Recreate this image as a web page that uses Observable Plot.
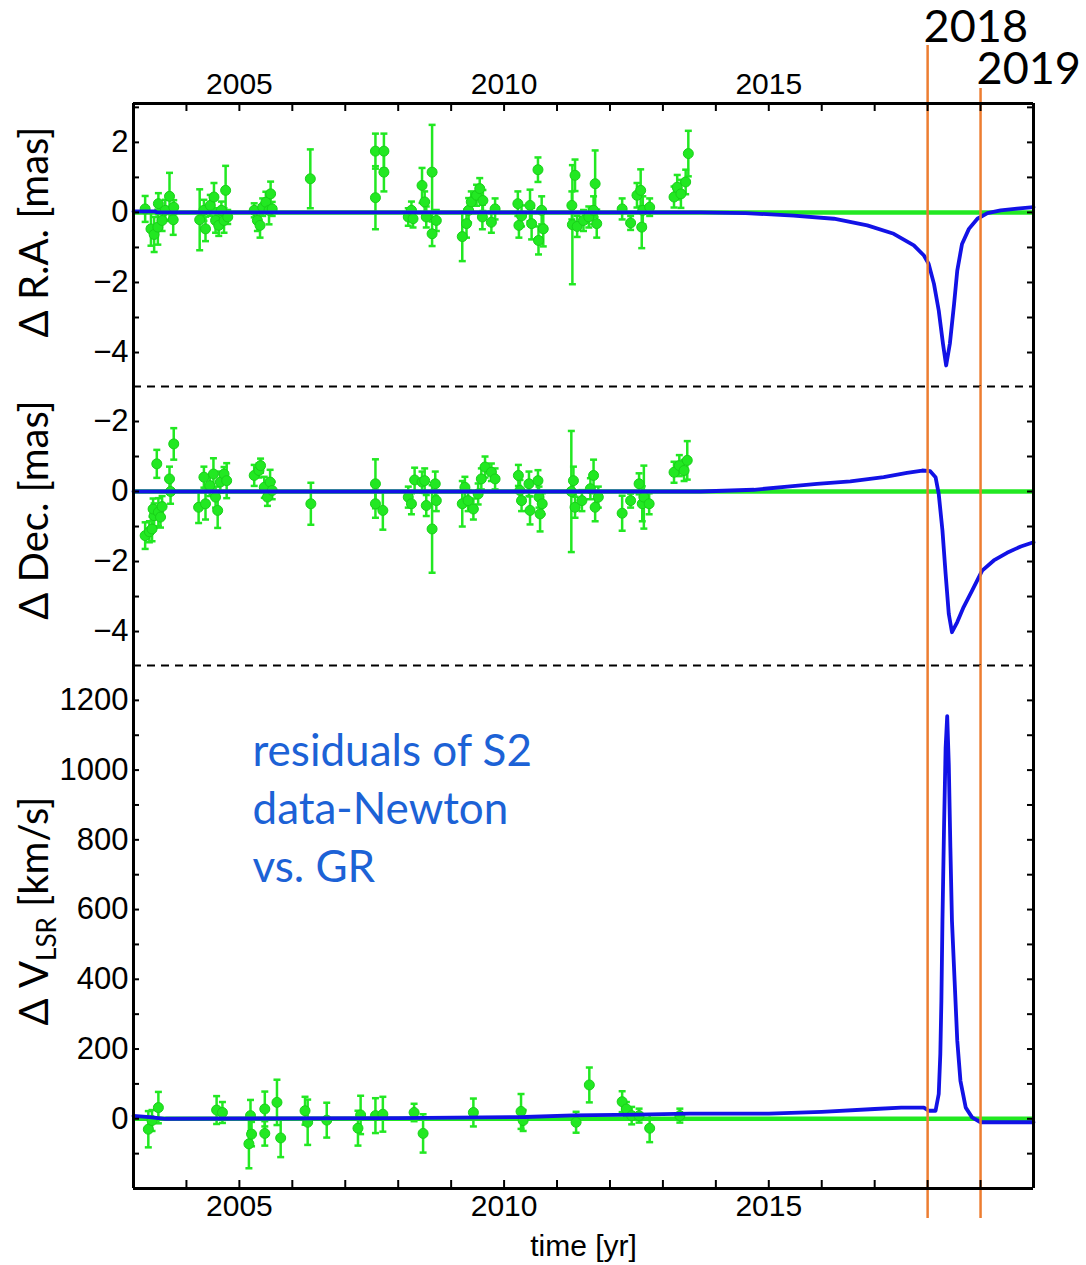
<!DOCTYPE html>
<html>
<head>
<meta charset="utf-8">
<script src="https://cdn.jsdelivr.net/npm/d3@7"></script>
<script src="https://cdn.jsdelivr.net/npm/@observablehq/plot@0.6"></script>
<style>
  html, body { margin: 0; padding: 0; background: #fff; overflow: hidden; }
  #chart { position: relative; width: 1086px; height: 1265px; }
  #chart svg { display: block; overflow: visible; max-width: none; }
</style>
</head>
<body>
<div id="chart"></div>
<script>
// ---------------- DATA ----------------
// [year, residual, error]
const raPoints = [
  [2003.22, 0.10, 0.37], [2003.33, -0.47, 0.48], [2003.39, -0.63, 0.50], [2003.46, -0.42, 0.50],
  [2003.47, 0.25, 0.30], [2003.54, -0.23, 0.30], [2003.60, 0.06, 0.30], [2003.68, 0.46, 0.67],
  [2003.75, -0.21, 0.43], [2003.76, 0.15, 0.20],
  [2004.25, -0.21, 0.87], [2004.33, 0.06, 0.30], [2004.36, -0.47, 0.35], [2004.45, 0.20, 0.30],
  [2004.52, 0.44, 0.40], [2004.55, -0.23, 0.35], [2004.61, -0.37, 0.30], [2004.66, 0.06, 0.25],
  [2004.71, -0.23, 0.35], [2004.74, 0.63, 0.70], [2004.78, -0.13, 0.20],
  [2005.28, 0.06, 0.20], [2005.34, -0.23, 0.30], [2005.39, -0.37, 0.35], [2005.44, 0.15, 0.25],
  [2005.50, 0.29, 0.30], [2005.56, 0.06, 0.40], [2005.59, 0.53, 0.35], [2005.62, 0.10, 0.20],
  [2006.34, 0.96, 0.84],
  [2007.57, 1.75, 0.50], [2007.57, 0.42, 0.90], [2007.73, 1.75, 0.50], [2007.73, 1.15, 0.55],
  [2008.19, -0.13, 0.25], [2008.25, 0.06, 0.25], [2008.28, -0.18, 0.25], [2008.45, 0.77, 0.50],
  [2008.50, 0.30, 0.30], [2008.53, -0.13, 0.30], [2008.64, 1.15, 1.35], [2008.64, -0.61, 0.35],
  [2008.72, -0.23, 0.30],
  [2009.21, -0.69, 0.70], [2009.29, -0.32, 0.40], [2009.33, 0.06, 0.35], [2009.38, 0.30, 0.30],
  [2009.48, 0.49, 0.30], [2009.54, 0.68, 0.30], [2009.59, -0.13, 0.35], [2009.60, 0.34, 0.30],
  [2009.76, -0.28, 0.30], [2009.83, 0.10, 0.30],
  [2010.26, 0.25, 0.35], [2010.28, -0.37, 0.35], [2010.33, -0.10, 0.30], [2010.49, 0.20, 0.45],
  [2010.52, -0.32, 0.45], [2010.64, 1.22, 0.35], [2010.65, -0.80, 0.40], [2010.71, 0.06, 0.40],
  [2010.74, -0.47, 0.50],
  [2011.28, 0.20, 0.40], [2011.29, -0.35, 1.70], [2011.34, 1.06, 0.45], [2011.38, -0.40, 0.30],
  [2011.50, -0.23, 0.30], [2011.60, -0.13, 0.30], [2011.69, 0.06, 0.40], [2011.72, 0.82, 0.95],
  [2011.75, -0.32, 0.40],
  [2012.23, 0.10, 0.30], [2012.39, -0.30, 0.20], [2012.51, 0.49, 0.35], [2012.58, 0.63, 0.60],
  [2012.60, -0.42, 0.60], [2012.62, 0.06, 0.40], [2012.75, 0.15, 0.25],
  [2013.21, 0.44, 0.30], [2013.27, 0.72, 0.35], [2013.34, 0.53, 0.40], [2013.43, 0.87, 0.35],
  [2013.48, 1.68, 0.65]
];

const decPoints = [
  [2003.22, -1.26, 0.38], [2003.30, -1.15, 0.30], [2003.35, -1.07, 0.35], [2003.39, -0.69, 0.35],
  [2003.37, -0.50, 0.30], [2003.44, 0.79, 0.40], [2003.47, -0.59, 0.40], [2003.51, -0.73, 0.30],
  [2003.54, -0.43, 0.30], [2003.68, 0.36, 0.35], [2003.70, 0.00, 0.35], [2003.76, 1.36, 0.45],
  [2004.23, -0.45, 0.45], [2004.33, 0.41, 0.30], [2004.36, -0.35, 0.45], [2004.44, 0.17, 0.30],
  [2004.51, 0.50, 0.45], [2004.55, -0.16, 0.30], [2004.59, -0.54, 0.50], [2004.64, 0.27, 0.30],
  [2004.71, 0.50, 0.20], [2004.76, 0.31, 0.50],
  [2005.28, 0.46, 0.30], [2005.37, 0.60, 0.20], [2005.40, 0.74, 0.20], [2005.47, 0.12, 0.30],
  [2005.53, -0.16, 0.25], [2005.58, 0.27, 0.35], [2005.62, 0.03, 0.25],
  [2006.35, -0.35, 0.60],
  [2007.57, 0.22, 0.70], [2007.57, -0.35, 0.40], [2007.71, -0.54, 0.55],
  [2008.19, -0.16, 0.30], [2008.25, -0.35, 0.30], [2008.31, 0.33, 0.35], [2008.45, 0.27, 0.30],
  [2008.50, 0.31, 0.35], [2008.53, -0.40, 0.30], [2008.64, -1.07, 1.25], [2008.70, 0.22, 0.35],
  [2008.72, -0.26, 0.30],
  [2009.21, -0.35, 0.65], [2009.26, 0.12, 0.30], [2009.32, -0.26, 0.30], [2009.42, -0.50, 0.30],
  [2009.51, -0.07, 0.30], [2009.57, 0.36, 0.30], [2009.64, 0.70, 0.30], [2009.76, 0.55, 0.25],
  [2009.83, 0.36, 0.30],
  [2010.27, 0.46, 0.30], [2010.30, 0.03, 0.30], [2010.33, -0.26, 0.30], [2010.47, 0.22, 0.35],
  [2010.49, -0.54, 0.40], [2010.64, 0.31, 0.30], [2010.66, -0.16, 0.30], [2010.68, -0.64, 0.50],
  [2010.72, -0.35, 0.30],
  [2011.27, 0.00, 1.73], [2011.31, 0.31, 0.40], [2011.34, -0.45, 0.30], [2011.47, -0.26, 0.30],
  [2011.63, 0.08, 0.30], [2011.69, 0.46, 0.45], [2011.72, -0.45, 0.40], [2011.78, -0.16, 0.30],
  [2012.23, -0.62, 0.50], [2012.39, -0.26, 0.20], [2012.55, 0.22, 0.30], [2012.61, -0.35, 0.50],
  [2012.64, -0.16, 0.90], [2012.74, -0.35, 0.30],
  [2013.21, 0.55, 0.30], [2013.31, 0.74, 0.30], [2013.40, 0.60, 0.30], [2013.46, 0.89, 0.55]
];

const vlsrPoints = [
  [2003.28, -30, 52], [2003.35, -5, 30], [2003.47, 32, 45],
  [2004.57, 25, 40], [2004.68, 18, 30],
  [2005.18, -72, 70], [2005.21, 9, 45], [2005.23, -44, 35], [2005.48, 28, 50], [2005.48, -42, 35],
  [2005.71, 47, 65], [2005.78, -55, 55],
  [2006.24, 23, 40], [2006.29, -10, 65], [2006.65, -4, 50],
  [2007.24, -27, 50], [2007.29, 11, 55], [2007.57, 9, 50], [2007.71, 13, 50],
  [2008.30, 18, 25], [2008.47, -42, 55],
  [2009.42, 18, 40],
  [2010.32, 21, 50], [2010.36, -5, 30],
  [2011.36, -10, 30], [2011.61, 97, 50],
  [2012.23, 49, 30], [2012.31, 28, 20], [2012.41, 9, 25], [2012.55, 9, 20], [2012.75, -27, 40],
  [2013.32, 9, 20]
];

// model curves (GR - Newton), [year, value]
const raModel = [
  [2003.0, 0.03], [2003.4, 0.03], [2003.45, 0.0], [2013.71, 0.0], [2014.56, -0.02], [2015.47, -0.09],
  [2016.23, -0.18], [2016.86, -0.37], [2017.36, -0.61], [2017.74, -0.94], [2017.93, -1.23],
  [2018.02, -1.47], [2018.12, -2.04], [2018.21, -2.80], [2018.29, -3.75], [2018.35, -4.37],
  [2018.42, -3.75], [2018.50, -2.61], [2018.56, -1.66], [2018.65, -0.90], [2018.78, -0.47],
  [2018.94, -0.18], [2019.13, -0.02], [2019.38, 0.06], [2019.69, 0.11], [2020.0, 0.15]
];

const decModel = [
  [2003.0, 0.0], [2013.71, 0.0], [2014.72, 0.05], [2015.35, 0.14], [2015.91, 0.22], [2016.54, 0.29],
  [2017.17, 0.41], [2017.61, 0.53], [2017.90, 0.60], [2018.05, 0.58], [2018.15, 0.41],
  [2018.21, -0.07], [2018.28, -1.11], [2018.34, -2.35], [2018.40, -3.50], [2018.46, -4.02],
  [2018.56, -3.73], [2018.68, -3.30], [2018.84, -2.83], [2019.03, -2.26], [2019.25, -1.97],
  [2019.50, -1.75], [2019.76, -1.57], [2020.0, -1.45]
];

const vlsrModel = [
  [2003.0, 8], [2003.3, 5], [2003.6, 0], [2008.0, 2], [2010.4, 5], [2011.3, 10], [2012.5, 12],
  [2013.5, 15], [2015.0, 15], [2016.0, 20], [2017.0, 28], [2017.5, 32], [2017.93, 32],
  [2018.02, 23], [2018.15, 23], [2018.21, 71], [2018.24, 186], [2018.26, 338], [2018.28, 567],
  [2018.31, 835], [2018.34, 1064], [2018.37, 1155], [2018.40, 1016], [2018.43, 777],
  [2018.46, 567], [2018.51, 395], [2018.56, 224], [2018.62, 109], [2018.72, 32], [2018.84, 4],
  [2019.0, -10], [2020.0, -10]
];

// ticks and labels
const yearTicks = [2004, 2005, 2006, 2007, 2008, 2009, 2010, 2011, 2012, 2013, 2014, 2015, 2016, 2017, 2018, 2019];
const xLabelTicks = [2005, 2010, 2015];
const xTickLabels = ["2005", "2010", "2015"];

const raTickValues = [2, 0, -2, -4];
const raTickLabels = ["2", "0", "\u22122", "\u22124"];
const raMinorTicks = [3, 2, 1, 0, -1, -2, -3, -4];

const decTickValues = [2, 0, -2, -4];
const decTickLabels = ["\u22122", "0", "\u22122", "\u22124"];
const decMinorTicks = [2, 1, 0, -1, -2, -3, -4];

const vTickValues = [0, 200, 400, 600, 800, 1000, 1200];
const vTickLabels = ["0", "200", "400", "600", "800", "1000", "1200"];
const vMinorTicks = [-100, 0, 100, 200, 300, 400, 500, 600, 700, 800, 900, 1000, 1100, 1200];

const markYears = [2018, 2019];
const markLabels = ["2018", "2019"];

const raTitle = "\u0394 R.A. [mas]";
const decTitle = "\u0394 Dec. [mas]";
const vTitleParts = ["\u0394 V", "LSR", " [km/s]"];
const xTitle = "time [yr]";
const noteLines = ["residuals of S2", "data-Newton", "vs. GR"];

// ---------------- STYLE / LAYOUT ----------------
const GREEN = "#22e822", BLUE = "#1212e6", ORANGE = "#ed7d31", NOTE_BLUE = "#1c62d6";
const W = 1086, ML = 133, MR = 53, FW = W - ML - MR;
const TICK_FONT = "'Liberation Sans', Arial, Helvetica, sans-serif";
const LABEL_FONT = "Lato, 'Open Sans', 'Noto Sans', sans-serif";
const xDomain = [2003, 2020];

const capSymbol = {
  draw(ctx, size) {
    const w = Math.sqrt(size / Math.PI);
    ctx.moveTo(-w, 0);
    ctx.lineTo(w, 0);
  }
};

function dataMarks(points, model) {
  return [
    Plot.ruleY([0], {stroke: GREEN, strokeWidth: 4.5}),
    Plot.ruleX(points, {x: d => d[0], y1: d => d[1] - d[2], y2: d => d[1] + d[2], stroke: GREEN, strokeWidth: 2.5}),
    Plot.dot(points, {x: d => d[0], y: d => d[1] + d[2], symbol: capSymbol, r: 3.5, stroke: GREEN, strokeWidth: 2.5, fill: "none"}),
    Plot.dot(points, {x: d => d[0], y: d => d[1] - d[2], symbol: capSymbol, r: 3.5, stroke: GREEN, strokeWidth: 2.5, fill: "none"}),
    Plot.dot(points, {x: d => d[0], y: d => d[1], r: 5, fill: GREEN, stroke: "#19d019", strokeWidth: 1}),
    Plot.line(model, {x: d => d[0], y: d => d[1], stroke: BLUE, strokeWidth: 3.8, strokeLinejoin: "round"})
  ];
}

function sideTicks(minor) {
  return [
    Plot.tickY(minor, {y: d => d, insetRight: FW - 6, stroke: "black", strokeWidth: 2}),
    Plot.tickY(minor, {y: d => d, insetLeft: FW - 6, stroke: "black", strokeWidth: 2}),
    Plot.ruleX(xDomain, {stroke: "black", strokeWidth: 3})
  ];
}

function yAxis(values, labels) {
  return Plot.axisY({
    anchor: "left", ticks: values, tickSize: 0, tickPadding: 5, label: null,
    tickFormat: d => labels[values.indexOf(d)], fontSize: 31, fontFamily: TICK_FONT
  });
}

function yTitle(text, dy) {
  return Plot.text([text], {text: d => d, frameAnchor: "left", textAnchor: "middle", lineAnchor: "middle",
    rotate: -90, dx: -98, dy, fontSize: 40, fontFamily: LABEL_FONT, fill: "black"});
}

const baseStyle = {background: "transparent", overflow: "visible", fontFamily: TICK_FONT};

// ---------------- TOP PANEL: Δ R.A. ----------------
const raDomain = [-4.97, 3.11];
const topH = 386, topMT = 103;
const topPlot = Plot.plot({
  width: W, height: topH, marginTop: topMT, marginBottom: 0, marginLeft: ML, marginRight: MR,
  x: {domain: xDomain, axis: null},
  y: {domain: raDomain, axis: null},
  style: baseStyle,
  marks: [
    ...dataMarks(raPoints, raModel),
    Plot.ruleX([markYears[0]], {stroke: ORANGE, strokeWidth: 2.5, insetTop: -58}),
    Plot.ruleX([markYears[1]], {stroke: ORANGE, strokeWidth: 2.5, insetTop: -15}),
    ...sideTicks(raMinorTicks),
    Plot.tickX(yearTicks, {x: d => d, insetBottom: (topH - topMT) - 8, stroke: "black", strokeWidth: 2}),
    Plot.ruleY([raDomain[1]], {stroke: "black", strokeWidth: 3}),
    Plot.ruleY([raDomain[0]], {stroke: "black", strokeWidth: 2, strokeDasharray: "8,6"}),
    yAxis(raTickValues, raTickLabels),
    Plot.axisX({anchor: "top", ticks: xLabelTicks, tickSize: 0, tickPadding: 10, label: null,
      tickFormat: d => xTickLabels[xLabelTicks.indexOf(d)], fontSize: 30, fontFamily: TICK_FONT}),
    yTitle(raTitle, -13),
    Plot.text([markYears[0]], {x: d => d, text: d => markLabels[markYears.indexOf(d)], frameAnchor: "top",
      textAnchor: "start", lineAnchor: "middle", dx: -4, dy: -76, fontSize: 45, fontFamily: LABEL_FONT, fill: "black"}),
    Plot.text([markYears[1]], {x: d => d, text: d => markLabels[markYears.indexOf(d)], frameAnchor: "top",
      textAnchor: "start", lineAnchor: "middle", dx: -4, dy: -34, fontSize: 45, fontFamily: LABEL_FONT, fill: "black"})
  ]
});

// ---------------- MIDDLE PANEL: Δ Dec. ----------------
const decDomain = [-4.97, 3.0];
const midPlot = Plot.plot({
  width: W, height: 279, marginTop: 0, marginBottom: 0, marginLeft: ML, marginRight: MR,
  x: {domain: xDomain, axis: null},
  y: {domain: decDomain, axis: null},
  style: baseStyle,
  marks: [
    ...dataMarks(decPoints, decModel),
    Plot.ruleX(markYears, {stroke: ORANGE, strokeWidth: 2.5}),
    ...sideTicks(decMinorTicks),
    Plot.ruleY([decDomain[0]], {stroke: "black", strokeWidth: 2, strokeDasharray: "8,6"}),
    yAxis(decTickValues, decTickLabels),
    yTitle(decTitle, -16)
  ]
});

// ---------------- BOTTOM PANEL: Δ V_LSR ----------------
const vDomain = [-200, 1300];
const botH = 600, botMB = 77;
const botPlot = Plot.plot({
  width: W, height: botH, marginTop: 0, marginBottom: botMB, marginLeft: ML, marginRight: MR,
  x: {domain: xDomain, axis: null},
  y: {domain: vDomain, axis: null},
  style: baseStyle,
  marks: [
    ...dataMarks(vlsrPoints, vlsrModel),
    Plot.ruleX(markYears, {stroke: ORANGE, strokeWidth: 2.5, insetBottom: -30}),
    ...sideTicks(vMinorTicks),
    Plot.tickX(yearTicks, {x: d => d, insetTop: (botH - botMB) - 8, stroke: "black", strokeWidth: 2}),
    Plot.ruleY([vDomain[0]], {stroke: "black", strokeWidth: 3}),
    yAxis(vTickValues, vTickLabels),
    Plot.axisX({anchor: "bottom", ticks: xLabelTicks, tickSize: 0, tickPadding: 6, label: null,
      tickFormat: d => xTickLabels[xLabelTicks.indexOf(d)], fontSize: 30, fontFamily: TICK_FONT}),
    Plot.text([xTitle], {text: d => d, frameAnchor: "bottom", lineAnchor: "middle", dy: 58, fontSize: 30,
      fontFamily: TICK_FONT, fill: "black"}),
    yTitle(vTitleParts.join(""), -16),
    Plot.text([noteLines.join("\n")], {text: d => d, frameAnchor: "top-left", textAnchor: "start",
      lineAnchor: "top", lineHeight: 1.32, dx: 119, dy: 59, fontSize: 44, fontFamily: LABEL_FONT, fill: NOTE_BLUE})
  ]
});

// subscript for V_LSR
const NS = "http://www.w3.org/2000/svg";
botPlot.querySelectorAll("text").forEach(t => {
  if (t.textContent === vTitleParts.join("")) {
    t.textContent = "";
    const a = document.createElementNS(NS, "tspan"); a.textContent = vTitleParts[0];
    const b = document.createElementNS(NS, "tspan"); b.textContent = vTitleParts[1];
    b.setAttribute("font-size", "26"); b.setAttribute("dy", "8");
    const c = document.createElementNS(NS, "tspan"); c.textContent = vTitleParts[2];
    c.setAttribute("dy", "-8");
    t.append(a, b, c);
  }
});

const chart = document.getElementById("chart");
chart.append(topPlot, midPlot, botPlot);
</script>
</body>
</html>
